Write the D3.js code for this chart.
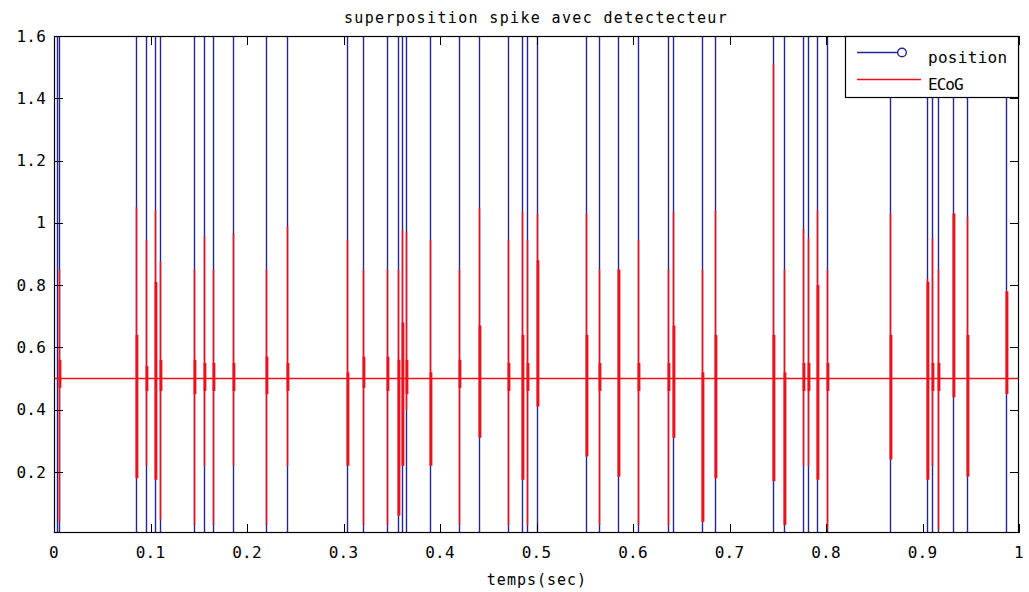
<!DOCTYPE html>
<html lang="fr">
<head>
<meta charset="UTF-8">
<title>superposition spike avec detectecteur</title>
<style>
  body { margin: 0; background: #fff; }
  svg text { font-family: "DejaVu Sans Mono", monospace; fill: #000; }
  .tick-label { font-size: 16px; letter-spacing: 0.2px; }
</style>
</head>
<body>
<div id="chart"></div>
<script src="https://d3js.org/d3.v7.min.js"></script>
<script>
// detector positions (s) - blue vertical lines
const positionTimes = [0.0028, 0.0052, 0.0850, 0.0953, 0.1047, 0.1098, 0.1454, 0.1558, 0.1651, 0.1858,
  0.2197, 0.2411, 0.3039, 0.3205, 0.3454, 0.3568, 0.3603, 0.3648, 0.3896, 0.4200,
  0.4407, 0.4708, 0.4853, 0.4905, 0.5010, 0.5513, 0.5651, 0.5845, 0.6055, 0.6358,
  0.6411, 0.6712, 0.6853, 0.7454, 0.7565, 0.7758, 0.7810, 0.7904, 0.8007, 0.8663,
  0.9050, 0.9101, 0.9157, 0.9319, 0.9458, 0.9865];

// ECoG spikes: time, peak, trough, and dense burst range
const spikeTimes = [0.0052, 0.0850, 0.0953, 0.1047, 0.1098, 0.1454, 0.1558, 0.1651, 0.1858,
  0.2197, 0.2411, 0.3039, 0.3205, 0.3454, 0.3568, 0.3603, 0.3648, 0.3896, 0.4200,
  0.4407, 0.4708, 0.4853, 0.4905, 0.5010, 0.5513, 0.5651, 0.5845, 0.6055, 0.6358,
  0.6411, 0.6712, 0.6853, 0.7454, 0.7565, 0.7758, 0.7810, 0.7904, 0.8007, 0.8663,
  0.9050, 0.9101, 0.9157, 0.9319, 0.9458, 0.9865];
const spikeMax = [0.85, 1.05, 0.945, 1.04, 0.876, 0.85, 0.956, 0.85, 0.967,
  0.85, 0.988, 0.945, 0.85, 0.85, 0.85, 0.977, 0.97, 0.945, 0.85,
  1.047, 0.945, 1.036, 0.945, 1.03, 1.03, 0.85, 0.85, 0.945, 0.85,
  1.036, 0.85, 1.04, 1.51, 0.85, 0.98, 0.95, 1.04, 0.85, 1.03,
  0.82, 0.95, 0.85, 1.03, 1.02, 0.78];
const spikeMin = [0.04, 0.18, 0.22, 0.175, 0.046, 0.03, 0.22, 0.03, 0.22,
  0.03, 0.22, 0.22, 0.03, 0.03, 0.06, 0.22, 0.40, 0.22, 0.03,
  0.31, 0.03, 0.175, 0.03, 0.41, 0.25, 0.03, 0.185, 0.03, 0.03,
  0.31, 0.04, 0.18, 0.17, 0.03, 0.22, 0.22, 0.175, 0.015, 0.24,
  0.175, 0.22, 0.015, 0.44, 0.185, 0.45];
const burstLo = [0.47, 0.18, 0.46, 0.175, 0.46, 0.45, 0.46, 0.46, 0.46,
  0.45, 0.46, 0.22, 0.47, 0.46, 0.06, 0.22, 0.45, 0.22, 0.47,
  0.31, 0.46, 0.175, 0.46, 0.41, 0.25, 0.46, 0.185, 0.46, 0.46,
  0.31, 0.04, 0.18, 0.17, 0.03, 0.46, 0.46, 0.175, 0.46, 0.24,
  0.175, 0.46, 0.46, 0.44, 0.185, 0.45];
const burstHi = [0.56, 0.64, 0.54, 0.81, 0.56, 0.56, 0.55, 0.55, 0.55,
  0.57, 0.55, 0.52, 0.57, 0.57, 0.56, 0.68, 0.56, 0.52, 0.56,
  0.67, 0.55, 0.64, 0.55, 0.88, 0.64, 0.55, 0.85, 0.55, 0.55,
  0.67, 0.52, 0.64, 0.64, 0.52, 0.55, 0.55, 0.80, 0.55, 0.64,
  0.81, 0.55, 0.55, 1.03, 0.64, 0.78];
const baseline = 0.5;

const xTicks = [0, 0.1, 0.2, 0.3, 0.4, 0.5, 0.6, 0.7, 0.8, 0.9, 1];
const yTicks = [0.2, 0.4, 0.6, 0.8, 1, 1.2, 1.4, 1.6];

const W = 1029, H = 592;
const m = { left: 54, right: 10, top: 36, bottom: 59 };
const blue = "#26268f", red = "#f0101a";

const svg = d3.select("#chart").append("svg").attr("width", W).attr("height", H);

const x = d3.scaleLinear().domain([0, 1]).range([m.left, W - m.right]);
const y = d3.scaleLinear().domain([0.004, 1.6]).range([H - m.bottom, m.top]);
const px = t => Math.round(x(t)) + 0.5;

svg.append("defs").append("clipPath").attr("id", "clip")
  .append("rect")
  .attr("x", m.left).attr("y", m.top)
  .attr("width", W - m.left - m.right).attr("height", H - m.top - m.bottom);

const plot = svg.append("g").attr("clip-path", "url(#clip)");

// position lines
plot.selectAll(".pos").data(positionTimes).enter().append("line")
  .attr("x1", px).attr("x2", px)
  .attr("y1", y.range()[0]).attr("y2", y.range()[1])
  .attr("stroke", blue).attr("stroke-width", 1.4);

// ECoG trace: baseline with spike excursions (drawn on top of the position lines)
const pts = [[0, baseline]];
spikeTimes.forEach((t, i) => {
  pts.push([t, baseline]);
  pts.push([t, spikeMax[i]]);
  pts.push([t, spikeMin[i]]);
  pts.push([t, baseline]);
});
pts.push([1, baseline]);

const line = d3.line().x(d => px(d[0])).y(d => y(d[1]));
plot.append("path").datum(pts).attr("d", line)
  .attr("fill", "none").attr("stroke", red).attr("stroke-width", 1.5);

// dense oscillation bursts around each spike
plot.selectAll(".burst").data(spikeTimes).enter().append("line")
  .attr("x1", d => px(d) + 0.5).attr("x2", d => px(d) + 0.5)
  .attr("y1", (d, i) => y(burstLo[i])).attr("y2", (d, i) => y(burstHi[i]))
  .attr("stroke", red).attr("stroke-width", 2.8);

// axes box and inward ticks
const frame = svg.append("g");
frame.append("rect")
  .attr("x", m.left + 0.5).attr("y", m.top + 0.5)
  .attr("width", W - m.left - m.right - 1).attr("height", H - m.top - m.bottom - 1)
  .attr("fill", "none").attr("stroke", "#000").attr("stroke-width", 1.2);

const tl = 9;
xTicks.forEach(t => {
  frame.append("line").attr("x1", px(t)).attr("x2", px(t))
    .attr("y1", y.range()[0]).attr("y2", y.range()[0] - tl).attr("stroke", "#000");
  frame.append("line").attr("x1", px(t)).attr("x2", px(t))
    .attr("y1", y.range()[1]).attr("y2", y.range()[1] + tl).attr("stroke", "#000");
  frame.append("text").attr("class", "tick-label")
    .attr("x", x(t)).attr("y", 558).attr("text-anchor", "middle").text(d3.format("~g")(t));
});
yTicks.forEach(t => {
  const py = Math.round(y(t)) + 0.5;
  frame.append("line").attr("x1", x.range()[0]).attr("x2", x.range()[0] + tl)
    .attr("y1", py).attr("y2", py).attr("stroke", "#000");
  frame.append("line").attr("x1", x.range()[1]).attr("x2", x.range()[1] - tl)
    .attr("y1", py).attr("y2", py).attr("stroke", "#000");
  frame.append("text").attr("class", "tick-label")
    .attr("x", 46).attr("y", y(t)).attr("dy", "0.35em")
    .attr("text-anchor", "end").text(d3.format("~g")(t));
});

svg.append("text").attr("x", 536).attr("y", 23).attr("text-anchor", "middle")
  .style("font-size", "15px").style("letter-spacing", "1.35px")
  .text("superposition spike avec detectecteur");
svg.append("text").attr("x", 537).attr("y", 585).attr("text-anchor", "middle")
  .style("font-size", "15px").style("letter-spacing", "1px")
  .text("temps(sec)");

// legend
const lg = svg.append("g");
lg.append("rect").attr("x", 845.5).attr("y", m.top + 0.5).attr("width", 173).attr("height", 61)
  .attr("fill", "#fff").attr("stroke", "#000").attr("stroke-width", 1.2);
lg.append("line").attr("x1", 857).attr("x2", 898).attr("y1", 52.5).attr("y2", 52.5)
  .attr("stroke", blue).attr("stroke-width", 1.4);
lg.append("circle").attr("cx", 902).attr("cy", 52.5).attr("r", 4.3)
  .attr("fill", "none").attr("stroke", blue).attr("stroke-width", 1.4);
lg.append("text").attr("x", 928).attr("y", 63).style("font-size", "16px")
  .style("letter-spacing", "0.3px").text("position");
lg.append("line").attr("x1", 857).attr("x2", 921).attr("y1", 79.5).attr("y2", 79.5)
  .attr("stroke", red).attr("stroke-width", 1.4);
lg.append("text").attr("x", 928).attr("y", 90).style("font-size", "16px")
  .style("letter-spacing", "-1px").text("ECoG");
</script>
</body>
</html>
